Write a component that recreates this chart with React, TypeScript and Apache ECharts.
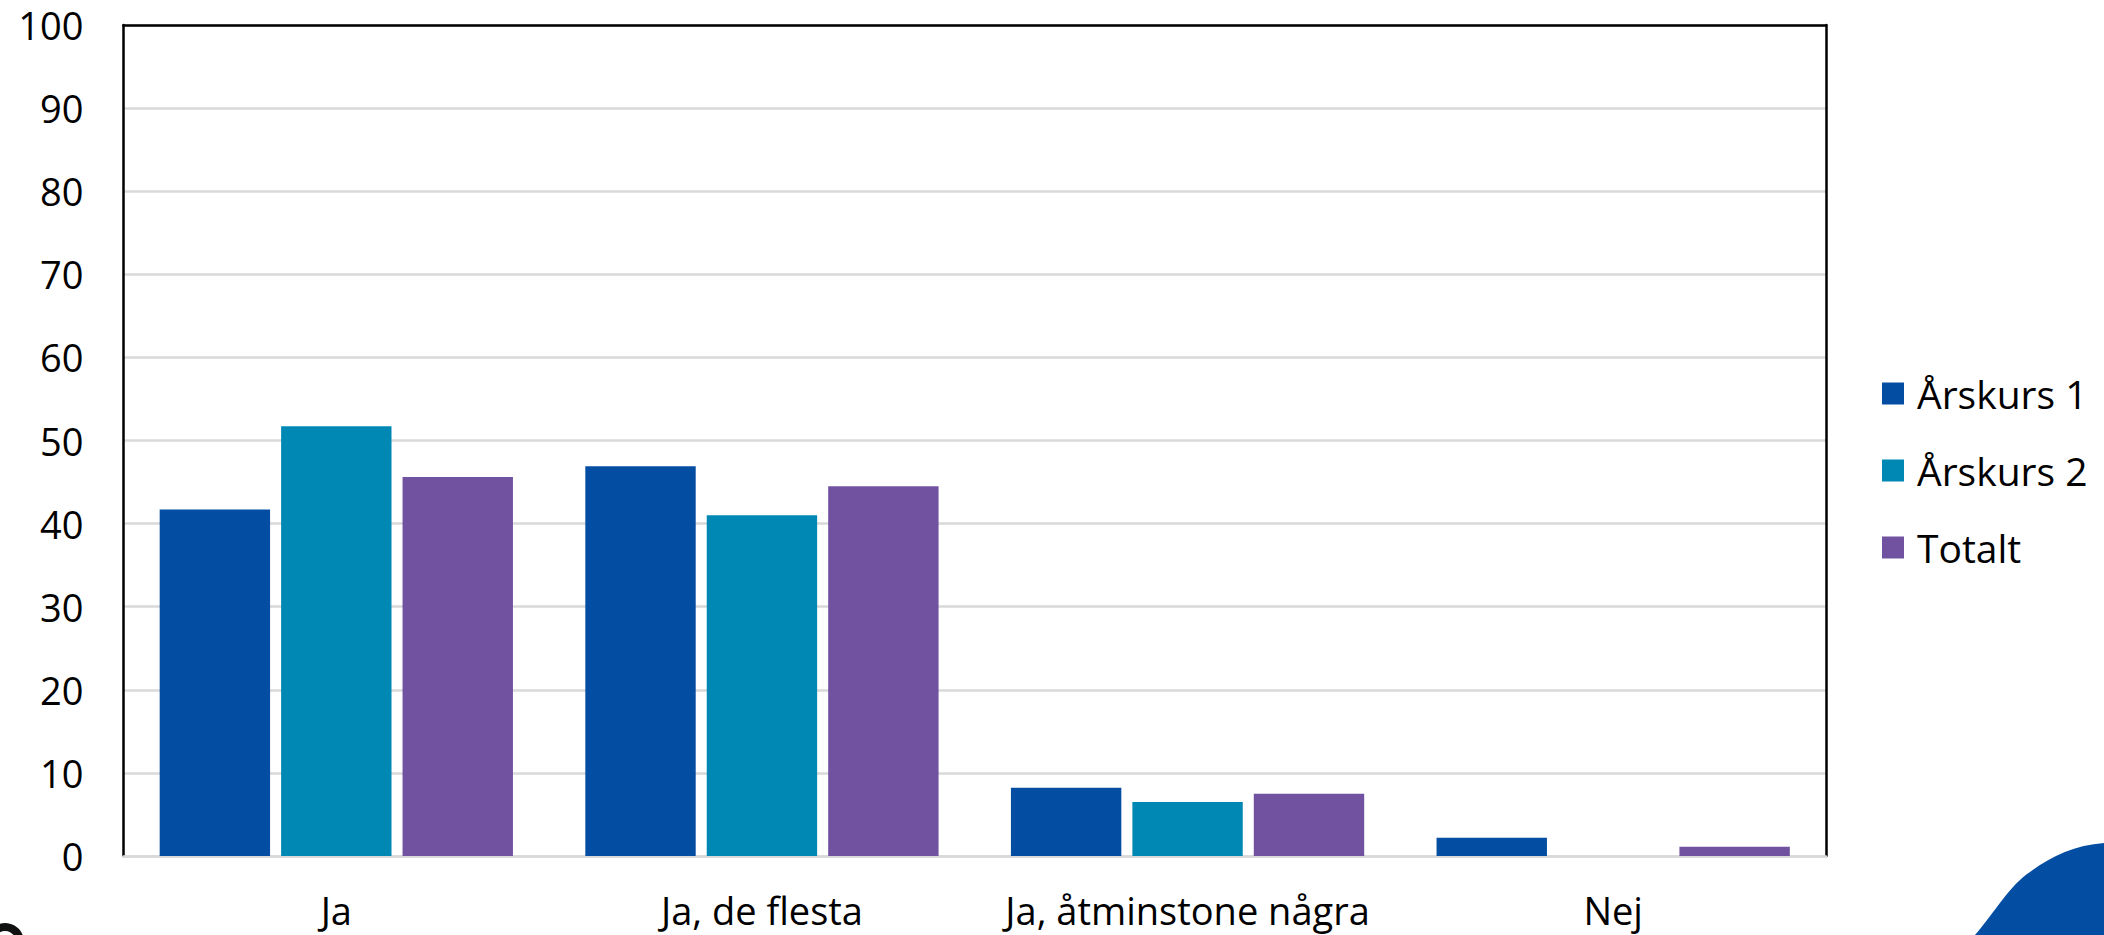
import React, { useEffect, useRef } from "react";
import * as echarts from "echarts";

const categories = ["Ja", "Ja, de flesta", "Ja, åtminstone några", "Nej"];
const seriesNames = ["Årskurs 1", "Årskurs 2", "Totalt"];
const arskurs1 = [41.7, 46.9, 8.2, 2.2];
const arskurs2 = [51.7, 41.0, 6.5, 0];
const totalt = [45.6, 44.5, 7.5, 1.1];
const colors = ["#034EA2", "#0088B5", "#7052A0"];
const yTicks = { min: 0, max: 100, interval: 10 };

const FONT = "Open Sans";

export default function App() {
  const ref = useRef<HTMLDivElement>(null);
  useEffect(() => {
    document.body.style.margin = "0";
    if (!ref.current) return;
    try {
      echarts.graphic.registerShape(
        "logo",
        echarts.graphic.extendPath(
          "M1975 935 C1995 912 2010 885 2030 872 C2050 857 2075 845 2104 843 L2104 935 Z",
          {}
        )
      );
    } catch (e) {}
    const chart = echarts.init(ref.current, undefined, { renderer: "svg" });
    const data = [arskurs1, arskurs2, totalt];
    chart.setOption({
      animation: false,
      backgroundColor: "#ffffff",
      textStyle: { fontFamily: FONT },
      grid: { left: 123.5, right: 278, top: 25, bottom: 79, containLabel: false },
      legend: {
        orient: "vertical",
        left: 1877,
        top: 369,
        itemWidth: 22,
        itemHeight: 22,
        itemGap: 38,
        icon: "rect",
        data: seriesNames,
        textStyle: { fontSize: 39, color: "#000", fontFamily: FONT, padding: [0, 0, 0, 8] },
      },
      xAxis: [
        {
          type: "category",
          data: categories,
          position: "bottom",
          axisLine: { show: true, onZero: false, lineStyle: { color: "#d9d9d9", width: 2.5 } },
          axisTick: { show: false },
          axisLabel: {
            interval: 0,
            fontSize: 38,
            lineHeight: 36,
            color: "#000",
            margin: 36,
            fontFamily: FONT,
          },
          z: 1,
        },
        {
          type: "category",
          data: categories,
          position: "top",
          axisLine: { show: true, onZero: false, lineStyle: { color: "#000", width: 2.5 } },
          axisTick: { show: false },
          axisLabel: { show: false },
        },
      ],
      yAxis: [
        {
          type: "value",
          min: yTicks.min,
          max: yTicks.max,
          interval: yTicks.interval,
          axisLine: { show: true, lineStyle: { color: "#000", width: 2.5 } },
          axisTick: { show: false },
          axisLabel: { fontSize: 38, lineHeight: 28, color: "#000", margin: 40, fontFamily: FONT },
          splitLine: { show: true, lineStyle: { color: "#d9d9d9", width: 2.5 } },
        },
        {
          type: "value",
          position: "right",
          min: yTicks.min,
          max: yTicks.max,
          interval: yTicks.interval,
          axisLine: { show: true, lineStyle: { color: "#000", width: 2.5 } },
          axisTick: { show: false },
          axisLabel: { show: false },
          splitLine: { show: false },
        },
      ],
      series: seriesNames.map((name, i) => ({
        name,
        type: "bar",
        data: data[i],
        barGap: "10%",
        barCategoryGap: "17%",
        itemStyle: { color: colors[i] },
      })),
      graphic: [
        {
          type: "logo",
          x: 0,
          y: 0,
          scaleX: 1,
          scaleY: 1,
          style: { fill: "#034EA2" },
        },
        {
          type: "ring",
          shape: { cx: 5, cy: 942, r: 19, r0: 11 },
          style: { fill: "#111" },
        },
      ],
    });
    return () => chart.dispose();
  }, []);
  return <div ref={ref} style={{ width: 2104, height: 935 }} />;
}
